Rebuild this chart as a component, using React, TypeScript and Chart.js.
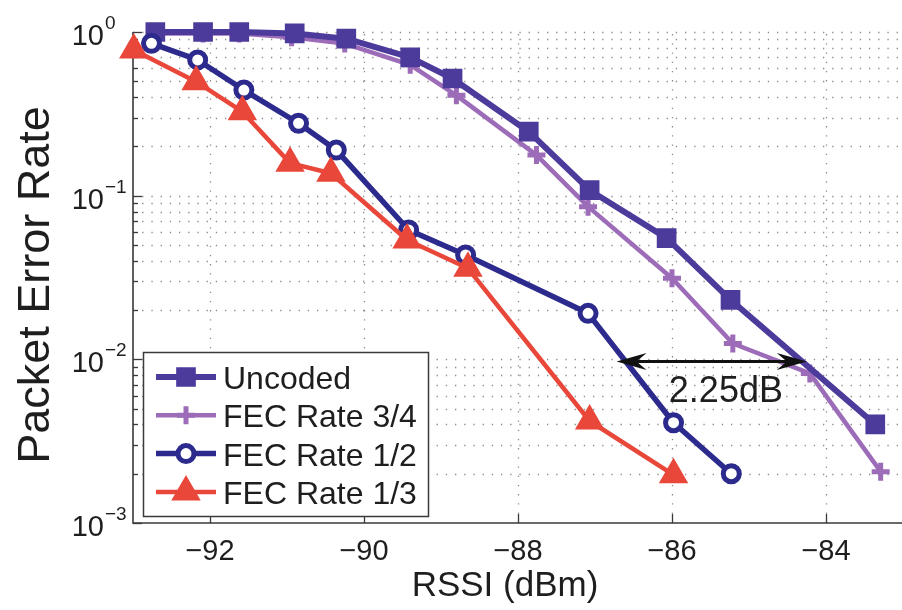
import React, { useEffect, useRef } from 'react';
import { Chart, registerables } from 'chart.js';
import { drawPoint } from 'chart.js/helpers';

Chart.register(...registerables);

const FONT = '"Liberation Sans", Arial, Helvetica, sans-serif';

// ---------- data ----------
const seriesNames = ['Uncoded', 'FEC Rate 3/4', 'FEC Rate 1/2', 'FEC Rate 1/3'];

const uncodedX = [-92.71, -92.09, -91.62, -90.9, -90.23, -89.4, -88.85, -87.86, -87.07, -86.07, -85.24, -83.36];
const uncodedY = [1.0, 1.0, 1.0, 0.98, 0.91, 0.7, 0.52, 0.246, 0.108, 0.055, 0.0231, 0.004];

const fec34X = [-92.71, -92.09, -91.62, -90.94, -90.25, -89.4, -88.8, -87.76, -87.09, -86.0, -85.21, -84.21, -83.29];
const fec34Y = [0.98, 0.98, 0.98, 0.93, 0.85, 0.63, 0.41, 0.177, 0.0857, 0.0313, 0.0125, 0.0082, 0.00206];

const fec12X = [-92.76, -92.16, -91.56, -90.85, -90.36, -89.42, -88.68, -87.09, -85.98, -85.23];
const fec12Y = [0.853, 0.675, 0.442, 0.277, 0.19, 0.0617, 0.0434, 0.0191, 0.0041, 0.002];

const fec13X = [-92.99, -92.18, -91.58, -90.96, -90.43, -89.44, -88.65, -87.07, -85.98];
const fec13Y = [0.776, 0.497, 0.326, 0.158, 0.137, 0.0536, 0.036, 0.0042, 0.00197];

const xRange = [-93, -83];
const yRange = [1e-3, 1];
const xTicks = [-92, -90, -88, -86, -84];
const yDecadeExps = [0, -1, -2, -3];

const xTitle = 'RSSI (dBm)';
const yTitle = 'Packet Error Rate';

const arrowFromX = -86.72;
const arrowToX = -84.25;
const arrowAtY = 0.0097;
const annotText = '2.25dB';
const annotTextX = -85.3;
const annotTextY = 0.0055;

// ---------- styles ----------
const seriesStyles = [
  { color: '#4D3B9C', width: 6, point: 'rect', radius: 12.5, fill: '#4D3B9C', pbw: 2, order: 3 },
  { color: '#9C6CB9', width: 4.5, point: 'cross', radius: 9, fill: '#9C6CB9', pbw: 5, order: 4 },
  { color: '#2C2A8C', width: 5.5, point: 'circle', radius: 8, fill: '#ffffff', pbw: 5, order: 2 },
  { color: '#E9473A', width: 4.5, point: 'triangle', radius: 15, fill: '#E9473A', pbw: 2, order: 1 },
];

const seriesX = [uncodedX, fec34X, fec12X, fec13X];
const seriesY = [uncodedY, fec34Y, fec12Y, fec13Y];

const AXIS_COLOR = '#3a3a3a';

const paperPlugin = {
  id: 'paper',
  beforeDatasetsDraw(chart: any) {
    const { ctx, chartArea: a } = chart;
    const x = chart.scales.x;
    const y = chart.scales.y;
    ctx.save();
    // dotted grid
    ctx.strokeStyle = '#8c8c8c';
    ctx.lineWidth = 1.3;
    ctx.setLineDash([1.3, 7.9]);
    for (let e = -3; e <= 0; e++) {
      for (let m = 1; m <= 9; m++) {
        const v = m * Math.pow(10, e);
        if (v > yRange[1] + 1e-12) continue;
        const py = Math.round(y.getPixelForValue(v)) + 0.5;
        if (py > a.bottom - 1) continue;
        ctx.beginPath();
        ctx.moveTo(a.left, py);
        ctx.lineTo(a.right, py);
        ctx.stroke();
      }
    }
    for (const t of xTicks) {
      const px = Math.round(x.getPixelForValue(t)) + 0.5;
      ctx.beginPath();
      ctx.moveTo(px, a.bottom);
      ctx.lineTo(px, a.top);
      ctx.stroke();
    }
    ctx.setLineDash([]);
    // axes
    ctx.strokeStyle = AXIS_COLOR;
    ctx.lineWidth = 1.6;
    ctx.beginPath();
    ctx.moveTo(a.left, a.top);
    ctx.lineTo(a.left, a.bottom);
    ctx.lineTo(a.right, a.bottom);
    ctx.stroke();
    // y ticks
    ctx.lineWidth = 1.3;
    for (let e = -3; e <= 0; e++) {
      for (let m = 1; m <= 9; m++) {
        const v = m * Math.pow(10, e);
        if (v > yRange[1] + 1e-12) continue;
        const py = Math.round(y.getPixelForValue(v)) + 0.5;
        const len = m === 1 ? 9 : 5;
        ctx.beginPath();
        ctx.moveTo(a.left, py);
        ctx.lineTo(a.left + len, py);
        ctx.stroke();
      }
    }
    for (const t of xTicks) {
      const px = Math.round(x.getPixelForValue(t)) + 0.5;
      ctx.beginPath();
      ctx.moveTo(px, a.bottom);
      ctx.lineTo(px, a.bottom - 9);
      ctx.stroke();
    }
    // tick labels
    ctx.fillStyle = '#1e1e1e';
    ctx.textBaseline = 'alphabetic';
    ctx.font = `29px ${FONT}`;
    ctx.textAlign = 'center';
    for (const t of xTicks) {
      const px = x.getPixelForValue(t);
      ctx.fillText('\u2212' + Math.abs(t), px, a.bottom + 37);
    }
    for (const e of yDecadeExps) {
      const py = y.getPixelForValue(Math.pow(10, e));
      ctx.font = `29px ${FONT}`;
      ctx.textAlign = 'right';
      ctx.fillText('10', a.left - 29, py + 13);
      ctx.font = `19px ${FONT}`;
      ctx.textAlign = 'left';
      ctx.fillText(e === 0 ? '0' : '\u2212' + Math.abs(e), a.left - 28, py - 3);
    }
    // titles
    ctx.font = `35px ${FONT}`;
    ctx.textAlign = 'center';
    ctx.fillText(xTitle, 505, a.bottom + 73);
    ctx.save();
    ctx.translate(49, 285);
    ctx.rotate(-Math.PI / 2);
    ctx.font = `45px ${FONT}`;
    ctx.fillText(yTitle, 0, 0);
    ctx.restore();
    ctx.restore();
  },
  afterDatasetsDraw(chart: any) {
    const { ctx, chartArea: a } = chart;
    const x = chart.scales.x;
    const y = chart.scales.y;
    ctx.save();
    // annotation arrow
    const ay = y.getPixelForValue(arrowAtY);
    const ax1 = x.getPixelForValue(arrowFromX);
    const ax2 = x.getPixelForValue(arrowToX);
    ctx.strokeStyle = '#111';
    ctx.fillStyle = '#111';
    ctx.lineWidth = 3;
    ctx.beginPath();
    ctx.moveTo(ax1 + 15, ay);
    ctx.lineTo(ax2 - 15, ay);
    ctx.stroke();
    const head = (tip: number, dir: number) => {
      ctx.beginPath();
      ctx.moveTo(tip, ay);
      ctx.lineTo(tip - dir * 30, ay - 8.5);
      ctx.lineTo(tip - dir * 20, ay);
      ctx.lineTo(tip - dir * 30, ay + 8.5);
      ctx.closePath();
      ctx.fill();
    };
    head(ax1, -1);
    head(ax2, 1);
    ctx.font = `36px ${FONT}`;
    ctx.textAlign = 'center';
    ctx.textBaseline = 'alphabetic';
    ctx.fillStyle = '#1e1e1e';
    ctx.fillText(annotText, x.getPixelForValue(annotTextX), y.getPixelForValue(annotTextY));

    // legend
    const L = { left: a.left + 10, top: 352, right: a.left + 295, bottom: 516 };
    ctx.fillStyle = '#ffffff';
    ctx.fillRect(L.left, L.top, L.right - L.left, L.bottom - L.top);
    ctx.strokeStyle = AXIS_COLOR;
    ctx.lineWidth = 1.5;
    ctx.strokeRect(L.left + 0.5, L.top + 0.5, L.right - L.left, L.bottom - L.top);
    ctx.font = `32px ${FONT}`;
    ctx.textAlign = 'left';
    for (let i = 0; i < seriesNames.length; i++) {
      const s = seriesStyles[i];
      const cy = 377 + i * 38.3;
      ctx.strokeStyle = s.color;
      ctx.lineWidth = s.width;
      ctx.beginPath();
      ctx.moveTo(L.left + 13, cy);
      ctx.lineTo(L.left + 73, cy);
      ctx.stroke();
      ctx.fillStyle = s.fill;
      ctx.strokeStyle = s.color;
      ctx.lineWidth = s.pbw;
      drawPoint(ctx, { pointStyle: s.point, radius: s.radius, rotation: 0, borderWidth: s.pbw } as any, L.left + 43, cy);
      ctx.fillStyle = '#1e1e1e';
      ctx.fillText(seriesNames[i], L.left + 80, cy + 12);
    }
    ctx.restore();
  },
};

export default function App() {
  const ref = useRef<HTMLCanvasElement | null>(null);
  useEffect(() => {
    if (!ref.current) return;
    const datasets = seriesNames.map((name, i) => {
      const s = seriesStyles[i];
      return {
        label: name,
        data: seriesX[i].map((xv, j) => ({ x: xv, y: seriesY[i][j] })),
        borderColor: s.color,
        borderWidth: s.width,
        backgroundColor: s.fill,
        pointStyle: s.point,
        pointRadius: s.radius,
        pointHoverRadius: s.radius,
        pointBackgroundColor: s.fill,
        pointBorderColor: s.color,
        pointBorderWidth: s.pbw,
        borderJoinStyle: 'round',
        tension: 0,
        fill: false,
        clip: false,
        order: s.order,
      };
    });
    const chart = new Chart(ref.current, {
      type: 'line',
      data: { datasets } as any,
      options: {
        animation: false,
        responsive: false,
        devicePixelRatio: 1,
        layout: { padding: { left: 133, top: 32, right: 9, bottom: 87 } },
        plugins: { legend: { display: false }, tooltip: { enabled: false } },
        events: [],
        scales: {
          x: { type: 'linear', min: xRange[0], max: xRange[1], display: false },
          y: { type: 'logarithmic', min: yRange[0], max: yRange[1], display: false },
        },
      } as any,
      plugins: [paperPlugin],
    });
    return () => chart.destroy();
  }, []);
  return (
    <div style={{ position: 'absolute', left: 0, top: 0, width: 902, height: 610, overflow: 'hidden', background: '#fff' }}>
      <canvas ref={ref} width={920} height={610} style={{ width: 920, height: 610, display: 'block' }} />
    </div>
  );
}
